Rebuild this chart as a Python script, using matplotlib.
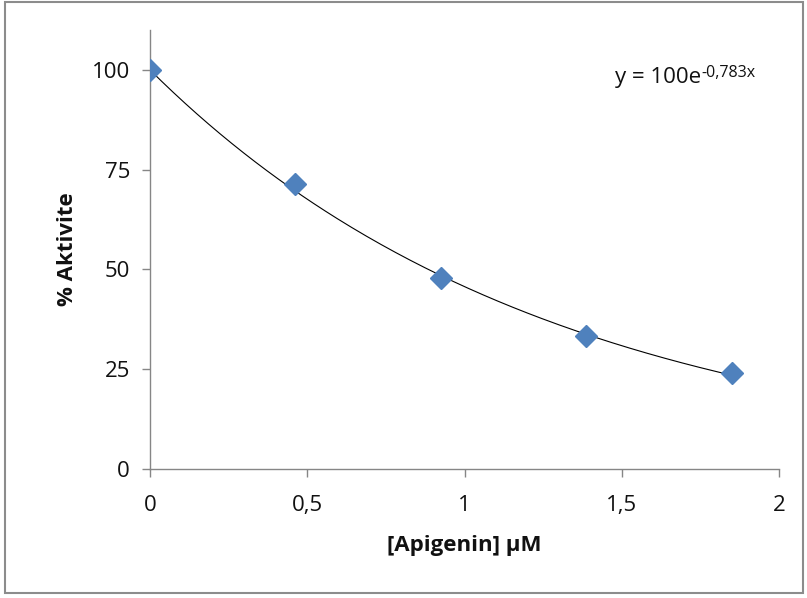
import matplotlib.pyplot as plt
import numpy as np
from matplotlib.ticker import FuncFormatter

plt.rcParams['font.family'] = ['Open Sans', 'DejaVu Sans']

# data
conc = [0.0, 0.462, 0.925, 1.387, 1.85]
activity = [100.0, 71.5, 47.8, 33.3, 24.0]

# exponential trendline shown on the chart: y = a * exp(b x)
fit_a = 100.0
fit_b = -0.783

xticks = [0, 0.5, 1, 1.5, 2]
yticks = [0, 25, 50, 75, 100]

grey = '#868686'
txt = '#111111'

fig = plt.figure(figsize=(8.07, 5.98), dpi=100)
ax = fig.add_axes([0.1859, 0.2157, 0.7794, 0.7341])

xs = np.linspace(0, conc[-1], 200)
ax.plot(xs, fit_a * np.exp(fit_b * xs), color='black', lw=0.8, zorder=2)
ax.plot(conc, activity, ls='none', marker='D', ms=11, color='#4F81BD', zorder=3)

ax.set_xlim(0, 2)
ax.set_ylim(0, 110)
ax.set_xticks(xticks)
ax.set_yticks(yticks)
fmt = FuncFormatter(lambda v, p: ('%g' % v).replace('.', ','))
ax.xaxis.set_major_formatter(fmt)

for s in ['top', 'right']:
    ax.spines[s].set_visible(False)
for s in ['left', 'bottom']:
    ax.spines[s].set_color(grey)
    ax.spines[s].set_linewidth(1)
ax.tick_params(axis='both', direction='out', length=5.5, width=1, color=grey,
               labelsize=16, labelcolor=txt)
ax.tick_params(axis='x', pad=13)
ax.tick_params(axis='y', pad=9)

ax.set_xlabel('[Apigenin] µM', fontsize=16, fontweight='bold', color=txt, labelpad=14)
ax.set_ylabel('% Aktivite', fontsize=16, fontweight='bold', color=txt, labelpad=10)

# trendline equation
eq = ax.text(0.739, 0.879, 'y = 100e', transform=ax.transAxes,
             fontsize=16, color=txt, va='baseline', ha='left')
ax.annotate('-0,783x', xy=(1.0, 0.893), xycoords=(eq, 'axes fraction'),
            fontsize=11.5, color=txt, va='baseline', ha='left')

# outer chart border
fig.patches.append(plt.Rectangle((0.006, 0.008), 0.989, 0.988, transform=fig.transFigure,
                                 fill=False, edgecolor='#8c8c8c', lw=1.5))

fig.savefig('out.png', dpi=100)
